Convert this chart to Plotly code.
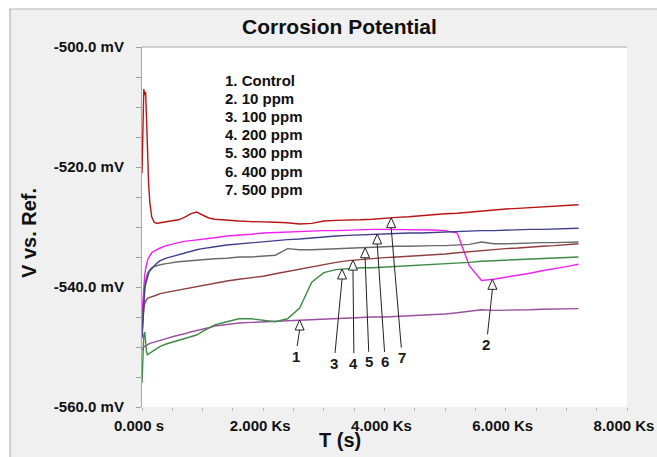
import numpy as np
import plotly.graph_objects as go

# ---------------- data ----------------
time_s = [0, 15, 30, 45, 60, 75, 90, 110, 130, 160, 200, 250, 300, 400, 500, 600, 700, 800, 900, 1000,
          1100, 1200, 1400, 1600, 1800, 2000, 2200, 2400, 2600, 2800, 3000, 3200, 3400, 3600, 3800, 4000,
          4200, 4400, 4600, 4800, 5000, 5200, 5400, 5600, 5800, 6000, 6200, 6400, 6600, 6800, 7000, 7200]

control = [-550.5, -550.2, -550.0, -549.9, -549.8, -549.7, -549.6, -549.5, -549.4, -549.3, -549.2, -549.0,
           -548.9, -548.6, -548.3, -548.1, -547.8, -547.5, -547.3, -547.0, -546.8, -546.5, -546.2, -546.0,
           -545.9, -545.8, -545.7, -545.6, -545.5, -545.4, -545.3, -545.3, -545.2, -545.1, -545.0, -545.0,
           -544.9, -544.9, -544.8, -544.7, -544.5, -544.3, -544.1, -543.8, -543.9, -543.9, -543.8, -543.8,
           -543.7, -543.7, -543.6, -543.6]

ppm10 = [-544.7, -542.0, -539.5, -538.0, -537.0, -536.2, -535.6, -535.1, -534.7, -534.3, -534.0, -533.7,
         -533.5, -533.1, -532.8, -532.6, -532.4, -532.3, -532.2, -532.0, -531.9, -531.8, -531.5, -531.4,
         -531.2, -531.0, -530.9, -530.8, -530.8, -530.7, -530.6, -530.6, -530.5, -530.5, -530.4, -530.4,
         -530.4, -530.4, -530.4, -530.5, -530.6, -531.0, -536.5, -538.9, -538.7, -538.4, -538.0, -537.7,
         -537.3, -537.0, -536.6, -536.2]

ppm100 = [-556.0, -551.0, -548.0, -547.5, -549.5, -550.8, -551.3, -551.2, -551.0, -550.8, -550.5, -550.2,
          -549.9, -549.5, -549.2, -548.9, -548.6, -548.3, -548.0, -547.4, -546.8, -546.3, -545.8, -545.3,
          -545.3, -545.6, -545.8, -545.3, -543.5, -539.2, -537.6, -537.1, -536.9, -536.8, -536.8, -536.7,
          -536.6, -536.4, -536.3, -536.2, -536.1, -536.0, -535.9, -535.7, -535.6, -535.5, -535.4, -535.3,
          -535.2, -535.1, -535.0, -535.0]

ppm200 = [-548.0, -545.5, -543.5, -542.7, -542.3, -542.1, -541.9, -541.8, -541.7, -541.6, -541.5, -541.3,
          -541.1, -540.9, -540.7, -540.5, -540.3, -540.1, -539.9, -539.7, -539.5, -539.3, -539.0, -538.7,
          -538.5, -538.2, -537.8, -537.4, -537.0, -536.6, -536.2, -535.9, -535.6, -535.4, -535.2, -535.1,
          -535.0, -534.9, -534.8, -534.7, -534.5, -534.3, -534.1, -534.0, -533.8, -533.6, -533.5, -533.3,
          -533.2, -533.1, -533.0, -532.8]

ppm300 = [-547.0, -544.0, -541.5, -540.0, -539.0, -538.3, -537.8, -537.4, -537.1, -536.8, -536.6, -536.4,
          -536.3, -536.1, -535.9, -535.8, -535.7, -535.6, -535.6, -535.5, -535.4, -535.3, -535.2, -535.0,
          -535.0, -534.9, -534.7, -533.6, -533.8, -533.8, -533.7, -533.7, -533.6, -533.5, -533.4, -533.3,
          -533.2, -533.2, -533.1, -533.1, -533.1, -533.0, -532.9, -532.5, -532.8, -532.8, -532.7, -532.7,
          -532.6, -532.6, -532.5, -532.5]

ppm400 = [-548.5, -545.0, -542.0, -540.5, -539.5, -538.8, -538.2, -537.7, -537.3, -536.9, -536.5, -536.0,
          -535.6, -535.2, -534.9, -534.6, -534.3, -534.0, -533.8, -533.6, -533.4, -533.3, -533.0, -532.8,
          -532.6, -532.4, -532.3, -532.1, -532.0, -531.8, -531.6, -531.5, -531.4, -531.3, -531.2, -531.1,
          -531.0, -531.0, -531.0, -530.9, -530.9, -530.7, -530.6, -530.6, -530.6, -530.5, -530.5, -530.4,
          -530.4, -530.3, -530.3, -530.2]

ppm500 = [-521.0, -513.0, -507.0, -508.0, -507.5, -512.0, -518.0, -523.0, -526.0, -528.3, -529.2, -529.4,
          -529.3, -529.1, -528.9, -528.8, -528.4, -527.8, -527.5, -528.0, -528.5, -528.7, -528.9, -529.0,
          -529.1, -529.1, -529.2, -529.3, -529.5, -529.4, -529.0, -528.9, -528.9, -528.8, -528.7, -528.5,
          -528.4, -528.3, -528.1, -528.0, -527.8, -527.7, -527.5, -527.4, -527.2, -527.0, -526.9, -526.8,
          -526.7, -526.6, -526.5, -526.3]

series_names = ["Control", "10 ppm", "100 ppm", "200 ppm", "300 ppm", "400 ppm", "500 ppm"]
series_values = [control, ppm10, ppm100, ppm200, ppm300, ppm400, ppm500]
series_colors = ["#9a509e", "#f020f0", "#3d8a45", "#8e3e3e", "#6a6a6a", "#40408a", "#b81414"]

legend_lines = ["1. Control", "2. 10 ppm", "3. 100 ppm", "4. 200 ppm", "5. 300 ppm", "6. 400 ppm", "7. 500 ppm"]

# arrow markers: label, series index, time at which they point
arrow_labels = ["1", "2", "3", "4", "5", "6", "7"]
arrow_series = [0, 1, 2, 3, 4, 5, 6]
arrow_times = [2600, 5780, 3300, 3480, 3680, 3880, 4110]

x_tickvals = [0, 2000, 4000, 6000, 8000]
x_ticktext = ["0.000 s", "2.000 Ks", "4.000 Ks", "6.000 Ks", "8.000 Ks"]
y_tickvals = [-560, -540, -520, -500]
y_ticktext = ["-560.0 mV", "-540.0 mV", "-520.0 mV", "-500.0 mV"]

# ---------------- figure ----------------
W, H = 657, 457
ML, MR, MT, MB = 142, 30, 47, 50
PW, PH = W - ML - MR, H - MT - MB
XR = (0, 8000)
YR = (-560, -500)
FONT = "Liberation Sans, Arial, sans-serif"


def px_x(p):  # pixel -> paper x
    return (p - ML) / PW


def px_y(p):  # pixel -> paper y
    return (H - MB - p) / PH


fig = go.Figure()

for name, vals, col in zip(series_names, series_values, series_colors):
    fig.add_trace(go.Scatter(x=time_s, y=vals, mode="lines", name=name,
                             line=dict(color=col, width=1.4), showlegend=False, hoverinfo="skip"))

# open triangles pointing at the curves
sx = (XR[1] - XR[0]) / PW   # seconds per pixel
sy = (YR[1] - YR[0]) / PH   # mV per pixel
tri_x, tri_y = [], []
bases = []
for lab, si, t in zip(arrow_labels, arrow_series, arrow_times):
    v = float(np.interp(t, time_s, series_values[si]))
    hw, hh = 4.5 * sx, 10 * sy
    tri_x += [t - hw, t, t + hw, t - hw, None]
    tri_y += [v - hh, v, v - hh, v - hh, None]
    bases.append((t, v - hh))
fig.add_trace(go.Scatter(x=tri_x, y=tri_y, mode="lines", fill="toself", fillcolor="white",
                         line=dict(color="#222222", width=1), showlegend=False, hoverinfo="skip"))

label_offsets = [(-4, 26), (-6, 55), (-8, 84), (1, 93), (4, 104), (8, 118), (11, 130)]
annotations = []
for lab, (bx, by), (ax, ay) in zip(arrow_labels, bases, label_offsets):
    annotations.append(dict(x=bx, y=by, xref="x", yref="y", text=lab, showarrow=True,
                            arrowhead=0, arrowwidth=1, arrowcolor="#222222", ax=ax, ay=ay,
                            font=dict(family=FONT, size=15, color="#1a1a1a", weight="bold")))

for i, line in enumerate(legend_lines):
    annotations.append(dict(x=px_x(223), y=px_y(80 + 18.2 * i), xref="paper", yref="paper",
                            text=line, showarrow=False, xanchor="left", yanchor="middle",
                            font=dict(family=FONT, size=15, color="#111111", weight="bold")))

annotations.append(dict(x=px_x(339), y=px_y(27), xref="paper", yref="paper", text="Corrosion Potential",
                        showarrow=False, xanchor="center", yanchor="middle",
                        font=dict(family=FONT, size=21, color="#111111", weight="bold")))
annotations.append(dict(x=px_x(29), y=px_y(233), xref="paper", yref="paper", text="V vs. Ref.",
                        showarrow=False, xanchor="center", yanchor="middle", textangle=-90,
                        font=dict(family=FONT, size=20, color="#111111", weight="bold")))
annotations.append(dict(x=px_x(340), y=px_y(440), xref="paper", yref="paper", text="T (s)",
                        showarrow=False, xanchor="center", yanchor="middle",
                        font=dict(family=FONT, size=20, color="#111111", weight="bold")))

shapes = [
    # grey panel with frame
    dict(type="rect", xref="paper", yref="paper", x0=px_x(10), x1=px_x(720), y0=px_y(520), y1=px_y(9),
         fillcolor="#f0f0f0", line=dict(color="#b4b4b4", width=1.2), layer="below"),
    # white plot area
    dict(type="rect", xref="paper", yref="paper", x0=0, x1=1, y0=0, y1=1,
         fillcolor="white", line=dict(width=0), layer="below"),
    # top border of the plot area
    dict(type="line", xref="paper", yref="paper", x0=0, x1=1, y0=1, y1=1,
         line=dict(color="#a8a8a8", width=1.2), layer="above"),
]

tickfont = dict(family=FONT, size=15, color="#111111", weight="bold")
fig.update_layout(
    width=W, height=H,
    margin=dict(l=ML, r=MR, t=MT, b=MB, autoexpand=False),
    paper_bgcolor="white", plot_bgcolor="white",
    showlegend=False,
    annotations=annotations,
    shapes=shapes,
    xaxis=dict(range=list(XR), tickvals=x_tickvals, ticktext=x_ticktext, showgrid=False, zeroline=False,
               ticks="outside", ticklen=3, tickcolor="#b8b8b8", showline=False, tickfont=tickfont,
               ticklabeloverflow="allow", ticklabelshift=-3, ticklabelstandoff=2, automargin=False,
               minor=dict(dtick=500, tick0=0, ticks="outside", ticklen=3, tickcolor="#b8b8b8", showgrid=False)),
    yaxis=dict(range=list(YR), tickvals=y_tickvals, ticktext=y_ticktext, showgrid=False, zeroline=False,
               ticks="outside", ticklen=5, tickcolor="#a0a0a0", showline=True, linecolor="#a8a8a8",
               linewidth=1.2, tickfont=tickfont, ticklabelstandoff=9, automargin=False,
               minor=dict(dtick=5, tick0=-560, ticks="outside", ticklen=5, tickcolor="#a0a0a0", showgrid=False)),
)

fig.write_html("out.html")
